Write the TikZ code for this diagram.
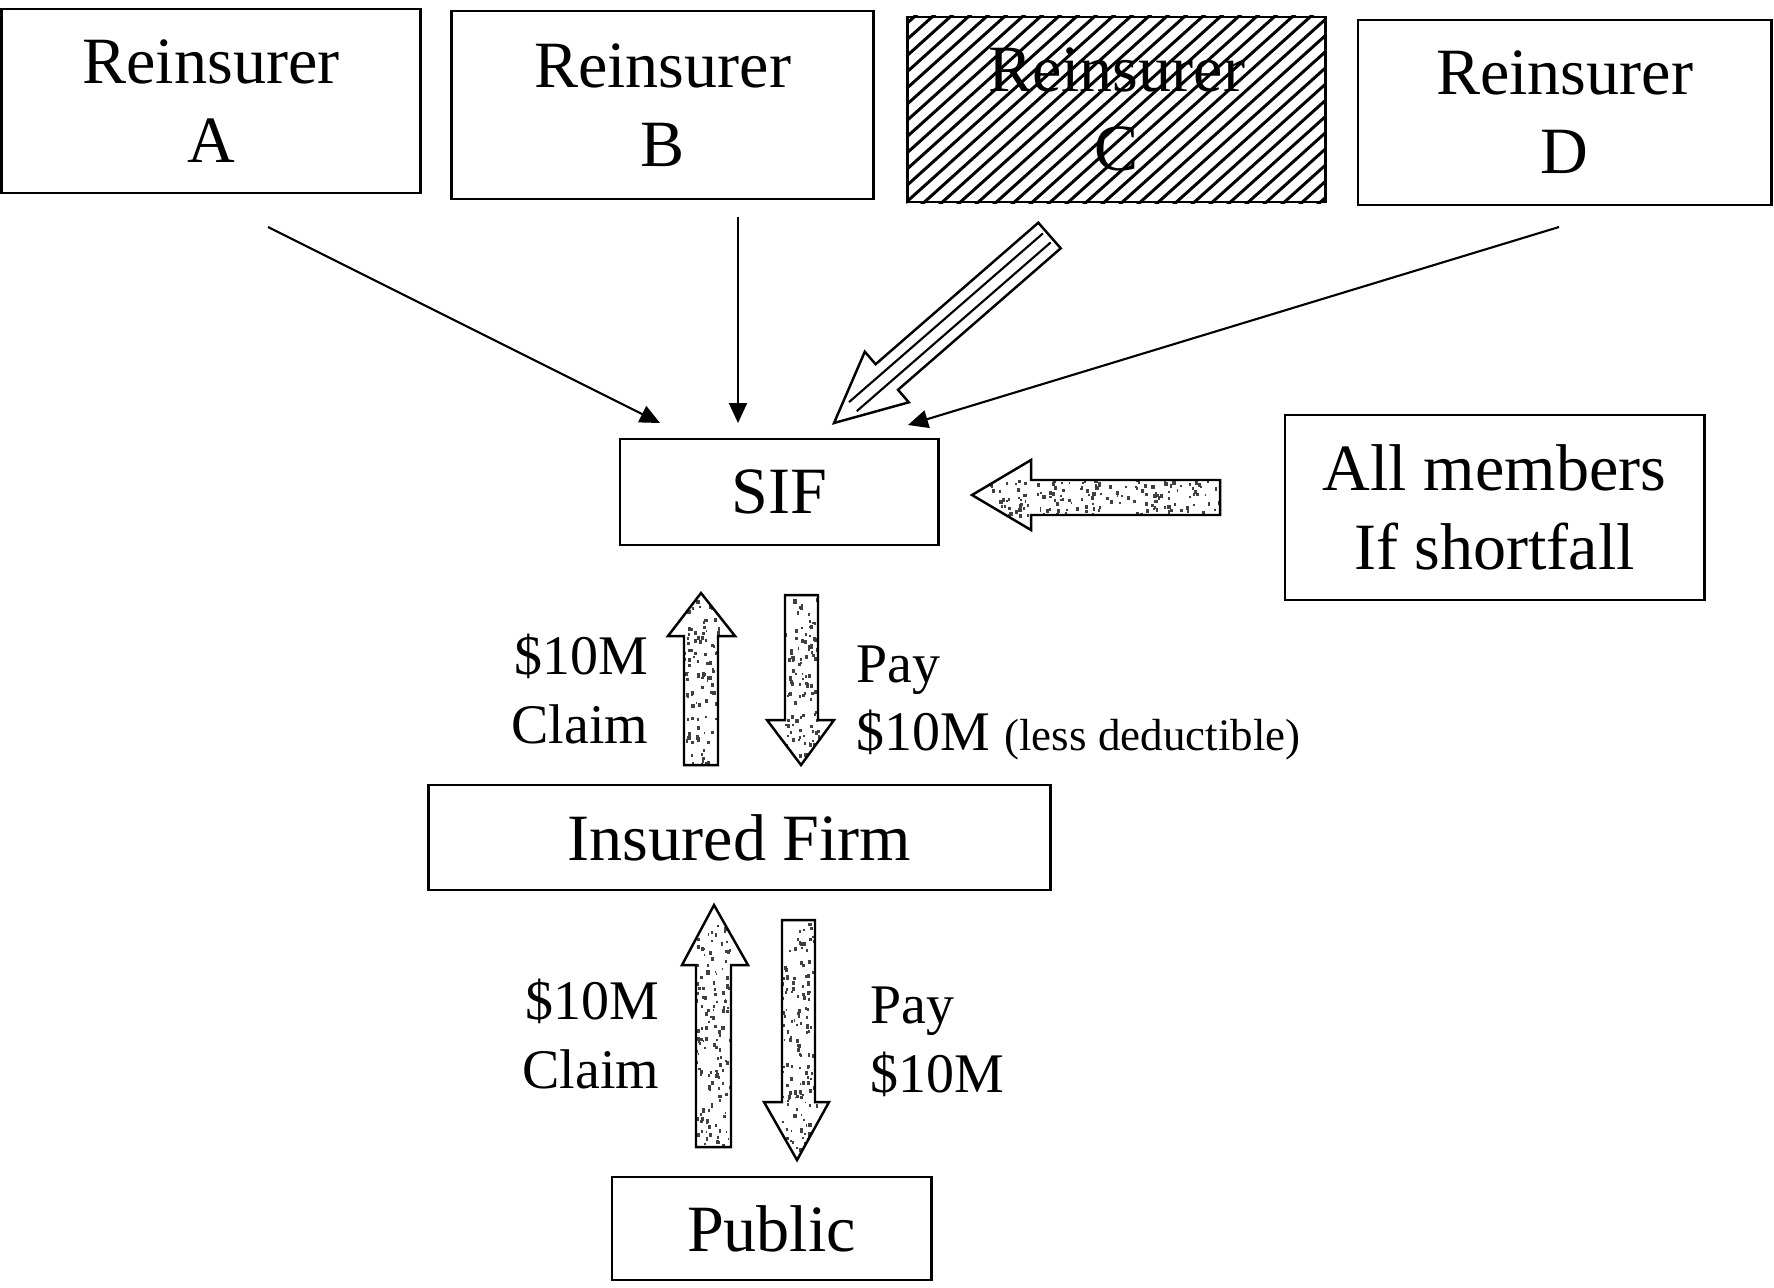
\documentclass[tikz,border=0pt]{standalone}
\usepackage{fontspec}
\setmainfont{Liberation Serif}
\usetikzlibrary{arrows.meta}
\newcommand{\boxfont}{\fontsize{18.8pt}{22.5pt}\selectfont}
\newcommand{\lblfont}{\fontsize{15.9pt}{19.5pt}\selectfont}
\newcommand{\smallfont}{\fontsize{12.8pt}{15pt}\selectfont}
\newcommand{\speckle}[5]{%
  \foreach \k in {1,...,#5}{%
    \pgfmathsetmacro{\spx}{#1+(#3-#1)*rnd}%
    \pgfmathsetmacro{\spy}{#2+(#4-#2)*rnd}%
    \pgfmathsetmacro{\sps}{1.4+2*rnd}%
    \fill[black!75] (\spx,\spy) rectangle ++(\sps,{1.3*\sps});%
  }}
\newcommand{\stipplearrow}[6]{%
  \begin{scope}\clip #1;\speckle{#2}{#3}{#4}{#5}{#6}\end{scope}%
  \draw[blockarrow] #1;}
\tikzset{
  box/.style={draw, line width=0.8pt, inner sep=0pt, align=center, font=\boxfont},
  lbl/.style={inner sep=0pt, font=\lblfont},
  conn/.style={line width=0.6pt, -{Triangle[length=0.2cm,width=0.18cm]}},
  blockarrow/.style={draw, line width=0.7pt, line join=miter},
  hatch/.style={line width=0.85pt},
  ahatch/.style={line width=0.6pt},
}
\pgfmathsetseed{7}
\begin{document}
\begin{tikzpicture}[x=0.01cm, y=-0.01cm]
\fill[white] (0,0) rectangle (1774,1287);
\useasboundingbox (0,0) rectangle (1774,1287);

% boxes
\node[box, minimum width=4.18cm, minimum height=1.84cm] (A) at (211,101) {Reinsurer\\A};
\node[box, minimum width=4.21cm, minimum height=1.88cm] (B) at (662.5,105) {Reinsurer\\B};
\node[box, minimum width=4.17cm, minimum height=1.85cm] (C) at (1116.5,109.5) {Reinsurer\\C};
\node[box, minimum width=4.13cm, minimum height=1.85cm] (D) at (1564.5,112.5) {Reinsurer\\D};
\node[box, minimum width=3.18cm, minimum height=1.06cm] (SIF) at (779,492) {SIF};
\node[box, minimum width=4.19cm, minimum height=1.85cm] (ALL) at (1494.5,507.5) {All members\\If shortfall};
\node[box, minimum width=6.21cm, minimum height=1.05cm] (FIRM) at (739.5,837.5) {Insured Firm};
\node[box, minimum width=3.19cm, minimum height=1.03cm] (PUB) at (771.5,1228.5) {Public};

% hatching of reinsurer C
\begin{scope}
  \clip (C.south west) rectangle (C.north east);
  \foreach \i in {0,...,37}{\draw[hatch] ({676+18*\i},215) -- ++(240,-216);}
\end{scope}

% thin connectors
\coordinate (a0) at (268,227); \coordinate (a1) at (660,423);
\coordinate (b0) at (738,217); \coordinate (b1) at (738,423);
\coordinate (d0) at (1559,227); \coordinate (d1) at (908,425);
\draw[conn] (a0) -- (a1);
\draw[conn] (b0) -- (b1);
\draw[conn] (d0) -- (d1);

% hatched block arrow from C
\draw[blockarrow, fill=white] (834,423) -- (864.8,351.7) -- (875.6,364.2) -- (1038.3,222.7)
  -- (1060.7,248.3) -- (898.0,389.8) -- (908.8,402.3) -- cycle;
\draw[ahatch] (1042.9,233.4) -- (849.0,402.1);
\draw[ahatch] (1050.7,242.4) -- (856.8,411.1);

% stippled block arrows
\stipplearrow{(972,495) -- (1031,460) -- (1031,480) -- (1220,480) -- (1220,515) -- (1031,515) -- (1031,530) -- cycle}{990}{478}{1218}{517}{170}
\stipplearrow{(701,593) -- (735,636) -- (718,636) -- (718,765) -- (684,765) -- (684,636) -- (668,636) -- cycle}{682}{600}{720}{763}{110}
\stipplearrow{(785,595) -- (818,595) -- (818,720) -- (834,720) -- (801,765) -- (767,720) -- (785,720) -- cycle}{783}{597}{820}{755}{110}
\stipplearrow{(714,905) -- (748,965) -- (731,965) -- (731,1147) -- (696,1147) -- (696,965) -- (682,965) -- cycle}{694}{915}{733}{1145}{150}
\stipplearrow{(782,920) -- (815,920) -- (815,1102) -- (829,1102) -- (797,1160) -- (764,1102) -- (782,1102) -- cycle}{780}{922}{817}{1150}{150}

% labels
\node[lbl, align=right, anchor=east] (l1) at (649,689) {\$10M\\Claim};
\node[lbl, align=left, anchor=west] (r1) at (856,703) {Pay\\\$10M {\smallfont (less deductible)}};
\node[lbl, align=right, anchor=east] (l2) at (660,1034) {\$10M\\Claim};
\node[lbl, align=left, anchor=west] (r2) at (870,1042) {Pay\\\$10M};
\end{tikzpicture}
\end{document}
